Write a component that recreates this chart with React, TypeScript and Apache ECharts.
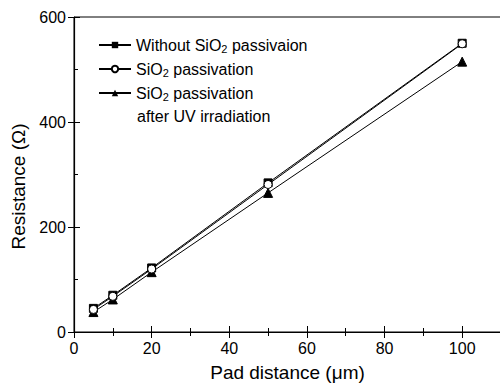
import React, { useEffect, useRef } from "react";
import * as echarts from "echarts";

const padDistance = [5, 10, 20, 50, 100];
const withoutSiO2 = [45, 70, 122, 284, 550];
const withSiO2 = [43, 68, 120, 281, 549];
const afterUV = [38, 62, 114, 265, 515];

const seriesNames = ["without", "sio2", "uv"];
const legendLabels: Record<string, string> = {
  without: "{a|Without SiO}{s|2}{a| passivaion}",
  sio2: "{a|SiO}{s|2}{a| passivation}",
  uv: "{a|SiO}{s|2}{a| passivation}",
};

const FONT = "Liberation Sans, Arial, sans-serif";

export default function App() {
  const ref = useRef<HTMLDivElement>(null);
  useEffect(() => {
    const chart = echarts.init(ref.current!, null, { renderer: "svg" });
    const mk = (arr: number[]) => padDistance.map((x, i) => [x, arr[i]]);
    chart.setOption({
      animation: false,
      backgroundColor: "#fff",
      textStyle: { fontFamily: FONT, color: "#000" },
      grid: {
        left: 74,
        right: -1,
        top: 17,
        bottom: 56,
        show: true,
        borderColor: "#000",
        borderWidth: 1,
        outerBoundsMode: "none",
        containLabel: false,
      },
      legend: {
        orient: "vertical",
        left: 98,
        top: 36,
        padding: 0,
        itemWidth: 32,
        itemHeight: 8,
        itemGap: 6,
        data: seriesNames,
        formatter: (n: string) => legendLabels[n],
        textStyle: {
          rich: {
            a: { fontSize: 16, lineHeight: 18, fontFamily: FONT, color: "#000" },
            s: { fontSize: 11, lineHeight: 11, fontFamily: FONT, color: "#000", padding: [7, 0, 0, 0] },
          },
        },
      },
      graphic: [
        {
          type: "text",
          left: 137,
          top: 108,
          style: { text: "after UV irradiation", font: `16px ${FONT}`, fill: "#000" },
        },
      ],
      xAxis: [
        {
          type: "value",
          min: 0,
          max: 110,
          interval: 20,
          name: "Pad distance (μm)",
          nameLocation: "middle",
          nameGap: 31,
          nameTextStyle: { fontSize: 19, fontFamily: FONT, color: "#000" },
          axisLine: { lineStyle: { color: "#000", width: 1.2 } },
          axisTick: { inside: true, length: 6, lineStyle: { color: "#000" } },
          minorTick: { show: true, splitNumber: 2, length: 4, lineStyle: { color: "#000" } },
          axisLabel: { fontSize: 16, color: "#000", margin: 8, fontFamily: FONT, showMaxLabel: false },
          splitLine: { show: false },
        },
        {
          type: "value",
          position: "top",
          min: 0,
          max: 110,
          interval: 20,
          axisLine: { lineStyle: { color: "#000", width: 1.2 } },
          axisTick: { inside: true, length: 6, lineStyle: { color: "#000" } },
          minorTick: { show: true, splitNumber: 2, length: 4, lineStyle: { color: "#000" } },
          axisLabel: { show: false },
          splitLine: { show: false },
        },
      ],
      yAxis: [
        {
          type: "value",
          min: 0,
          max: 600,
          interval: 200,
          name: "Resistance (Ω)",
          nameLocation: "middle",
          nameGap: 40,
          nameTextStyle: { fontSize: 19, fontFamily: FONT, color: "#000", padding: [0, 24, 0, 0] },
          axisLine: { lineStyle: { color: "#000", width: 1.2 } },
          axisTick: { inside: false, length: 6, lineStyle: { color: "#000" } },
          axisLabel: { fontSize: 16, color: "#000", margin: 8, fontFamily: FONT },
          splitLine: { show: false },
        },
        {
          type: "value",
          position: "left",
          min: 0,
          max: 600,
          interval: 200,
          axisLine: { show: false },
          axisTick: { inside: true, length: 6, lineStyle: { color: "#000" } },
          minorTick: { show: true, splitNumber: 2, length: 4, lineStyle: { color: "#000" } },
          axisLabel: { show: false },
          splitLine: { show: false },
        },
      ],
      series: [
        {
          name: "without",
          type: "line",
          data: mk(withoutSiO2),
          symbol: "rect",
          symbolSize: 8,
          lineStyle: { color: "#000", width: 1 },
          itemStyle: { color: "#000", borderColor: "#000" },
          z: 3,
        },
        {
          name: "sio2",
          type: "line",
          data: mk(withSiO2),
          symbol: "circle",
          symbolSize: 8,
          lineStyle: { color: "#000", width: 1 },
          itemStyle: { color: "#fff", borderColor: "#000", borderWidth: 1 },
          z: 4,
        },
        {
          name: "uv",
          type: "line",
          data: mk(afterUV),
          symbol: "triangle",
          symbolSize: 9,
          lineStyle: { color: "#000", width: 1 },
          itemStyle: { color: "#000", borderColor: "#000" },
          z: 2,
        },
      ],
    });
    return () => chart.dispose();
  }, []);
  return <div ref={ref} style={{ width: 500, height: 388, position: "absolute", left: 0, top: 0 }} />;
}
